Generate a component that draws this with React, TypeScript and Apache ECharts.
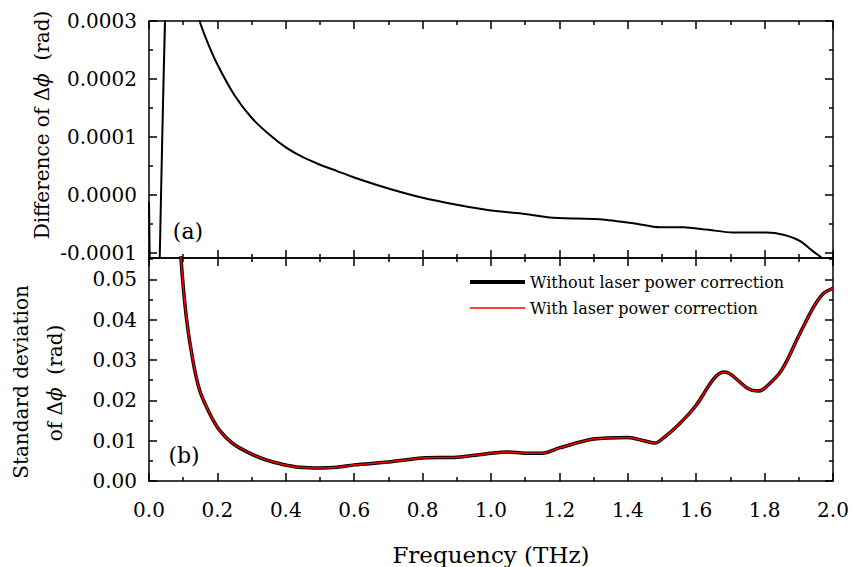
import React, { useEffect, useRef } from "react";
import * as echarts from "echarts";

// Panel (a): difference of Δφ (rad) vs frequency (THz)
const diffFreq = [0, 0.0118, 0.0154, 0.0638, 0.1, 0.125, 0.148, 0.17, 0.2, 0.25, 0.3, 0.35, 0.4, 0.45, 0.5, 0.55, 0.6, 0.7, 0.8, 0.9, 1.0, 1.1, 1.172, 1.25, 1.318, 1.416, 1.494, 1.562, 1.631, 1.708, 1.806, 1.855, 1.904, 1.943, 1.972, 2.0];
const diffValue = [-0.000012, -0.0004, -0.0004, 0.0005, 0.00045, 0.00035, 0.0003, 0.000265, 0.000225, 0.000172, 0.000133, 0.000105, 0.000082, 0.000065, 0.000052, 0.000041, 0.00003, 0.000011, -0.000005, -0.000017, -0.000027, -0.000033, -0.000039, -0.000041, -0.000042, -0.000049, -0.000056, -0.000056, -0.00006, -0.000065, -0.000065, -0.000069, -0.00008, -0.000098, -0.000111, -0.00013];

// Panel (b): standard deviation of Δφ (rad)
const stdFreq = [0.085, 0.094, 0.109, 0.128, 0.148, 0.177, 0.206, 0.245, 0.294, 0.343, 0.392, 0.44, 0.5, 0.55, 0.6, 0.7, 0.8, 0.9, 1.0, 1.05, 1.1, 1.15, 1.2, 1.3, 1.4, 1.45, 1.48, 1.5, 1.55, 1.6, 1.65, 1.68, 1.7, 1.75, 1.78, 1.8, 1.85, 1.9, 1.943, 1.972, 2.0];
const stdWithout = [0.07, 0.0547, 0.0407, 0.03, 0.0225, 0.0168, 0.0126, 0.0093, 0.0069, 0.0052, 0.0041, 0.0034, 0.0032, 0.0034, 0.0040, 0.0047, 0.0057, 0.0059, 0.0069, 0.0072, 0.0069, 0.0069, 0.0082, 0.0104, 0.0108, 0.0099, 0.0094, 0.0104, 0.0141, 0.0188, 0.0252, 0.027, 0.0265, 0.023, 0.0223, 0.023, 0.0275, 0.036, 0.0431, 0.0465, 0.0478];
const stdWith = [0.07, 0.0547, 0.0407, 0.03, 0.0225, 0.0168, 0.0126, 0.0093, 0.0069, 0.0052, 0.0041, 0.0034, 0.0032, 0.0034, 0.0040, 0.0047, 0.0057, 0.0059, 0.0069, 0.0072, 0.0069, 0.0069, 0.0082, 0.0104, 0.0108, 0.0099, 0.0094, 0.0104, 0.0141, 0.0188, 0.0252, 0.027, 0.0265, 0.023, 0.0223, 0.023, 0.0275, 0.036, 0.0431, 0.0465, 0.0478];

const seriesNames = ["Without laser power correction", "With laser power correction"];
const xTitle = "Frequency (THz)";

const FONT = "DejaVu Serif";

function zip(xs: number[], ys: number[]) {
  return xs.map((x, i) => [x, ys[i]]);
}

function xAxisDef(gridIndex: number, position: string, showLabel: boolean, name?: string) {
  return {
    type: "value",
    gridIndex,
    position,
    min: 0,
    max: 2,
    interval: 0.2,
    name: name || "",
    nameLocation: "middle",
    nameGap: 62,
    nameTextStyle: { fontFamily: FONT, fontSize: 23, color: "#000" },
    axisLine: { show: true, onZero: false, lineStyle: { color: "#000", width: 1.5 } },
    axisTick: { show: true, inside: true, length: 8, lineStyle: { color: "#000", width: 1.5 } },
    minorTick: { show: true, splitNumber: 2, length: 4, lineStyle: { color: "#000", width: 1.5 } },
    axisLabel: {
      show: showLabel,
      fontFamily: FONT,
      fontSize: 20,
      color: "#000",
      margin: 19,
      formatter: (v: number) => v.toFixed(1),
    },
    splitLine: { show: false },
  };
}

function yAxisDef(gridIndex: number, position: string, showLabel: boolean, min: number, max: number, split: number, step: number, digits: number) {
  return {
    type: "value",
    gridIndex,
    position,
    min,
    max,
    splitNumber: split,
    axisLine: { show: true, onZero: false, lineStyle: { color: "#000", width: 1.5 } },
    axisTick: { show: true, inside: true, length: 8, lineStyle: { color: "#000", width: 1.5 } },
    minorTick: { show: true, splitNumber: 2, length: 4, lineStyle: { color: "#000", width: 1.5 } },
    axisLabel: {
      show: showLabel,
      fontFamily: FONT,
      fontSize: 20,
      color: "#000",
      margin: 12,
      formatter: (v: number) => {
        const k = v / step;
        if (Math.abs(k - Math.round(k)) > 0.02) return "";
        const r = Math.round(k) * step;
        const s = r.toFixed(digits);
        return s === "-" + (0).toFixed(digits) ? (0).toFixed(digits) : s;
      },
    },
    splitLine: { show: false },
  };
}

function legendDef(name: string, top: number, thickness: number) {
  return {
    left: 470,
    top,
    orient: "vertical",
    padding: 0,
    icon: "rect",
    itemWidth: 55,
    itemHeight: thickness,
    itemGap: 0,
    textStyle: { fontFamily: FONT, fontSize: 16, color: "#000", lineHeight: 20 },
    data: [name],
  };
}

export default function App() {
  const ref = useRef<HTMLDivElement>(null);
  useEffect(() => {
    if (!ref.current) return;
    const chart = echarts.init(ref.current, undefined, { renderer: "svg" });
    const option: any = {
      animation: false,
      backgroundColor: "#fff",
      grid: [
        { left: 149, top: 21, width: 684, height: 237, containLabel: false },
        { left: 149, top: 258, width: 684, height: 223, containLabel: false },
      ],
      xAxis: [
        xAxisDef(0, "bottom", false),
        xAxisDef(0, "top", false),
        xAxisDef(1, "top", false),
        xAxisDef(1, "bottom", true, xTitle),
      ],
      yAxis: [
        yAxisDef(0, "left", true, -0.000109, 0.0003, 4, 0.0001, 4),
        yAxisDef(0, "right", false, -0.000109, 0.0003, 4, 0.0001, 4),
        yAxisDef(1, "left", true, 0, 0.0553, 5, 0.01, 2),
        yAxisDef(1, "right", false, 0, 0.0553, 5, 0.01, 2),
      ],
      legend: [legendDef(seriesNames[0], 272, 4), legendDef(seriesNames[1], 298, 1.5)],
      series: [
        {
          type: "line",
          name: "diff",
          xAxisIndex: 0,
          yAxisIndex: 0,
          data: zip(diffFreq, diffValue),
          showSymbol: false,
          symbol: "none",
          smooth: 0.25,
          lineStyle: { color: "#000", width: 2 },
          clip: true,
        },
        {
          type: "line",
          name: seriesNames[0],
          xAxisIndex: 3,
          yAxisIndex: 2,
          data: zip(stdFreq, stdWithout),
          showSymbol: false,
          symbol: "none",
          smooth: 0.3,
          color: "#000",
          lineStyle: { color: "#000", width: 3.5 },
          clip: true,
        },
        {
          type: "line",
          name: seriesNames[1],
          xAxisIndex: 3,
          yAxisIndex: 2,
          data: zip(stdFreq, stdWith),
          showSymbol: false,
          symbol: "none",
          smooth: 0.3,
          color: "#ff0000",
          lineStyle: { color: "#ff0000", width: 1.5 },
          clip: true,
        },
      ],
      graphic: [
        {
          type: "text",
          x: 188,
          y: 231,
          style: { text: "(a)", fontFamily: FONT, fontSize: 22, fill: "#000", textAlign: "center", textVerticalAlign: "middle" },
        },
        {
          type: "text",
          x: 184,
          y: 455,
          style: { text: "(b)", fontFamily: FONT, fontSize: 22, fill: "#000", textAlign: "center", textVerticalAlign: "middle" },
        },
        {
          type: "text",
          x: 42,
          y: 125,
          rotation: Math.PI / 2,
          style: {
            text: "Difference of Δ{i|ϕ}  (rad)",
            fontFamily: FONT,
            fontSize: 20,
            fill: "#000",
            textAlign: "center",
            textVerticalAlign: "middle",
            rich: { i: { fontFamily: FONT, fontSize: 20, fontStyle: "italic", fill: "#000" } },
          },
        },
        {
          type: "text",
          x: 21,
          y: 382,
          rotation: Math.PI / 2,
          style: { text: "Standard deviation", fontFamily: FONT, fontSize: 20, fill: "#000", textAlign: "center", textVerticalAlign: "middle" },
        },
        {
          type: "text",
          x: 55,
          y: 383,
          rotation: Math.PI / 2,
          style: {
            text: "of Δ{i|ϕ}  (rad)",
            fontFamily: FONT,
            fontSize: 20,
            fill: "#000",
            textAlign: "center",
            textVerticalAlign: "middle",
            rich: { i: { fontFamily: FONT, fontSize: 20, fontStyle: "italic", fill: "#000" } },
          },
        },
      ],
    };
    chart.setOption(option);
    return () => chart.dispose();
  }, []);
  return (
    <div
      ref={ref}
      style={{ position: "absolute", left: 0, top: 0, width: 853, height: 567, background: "#fff" }}
    />
  );
}
